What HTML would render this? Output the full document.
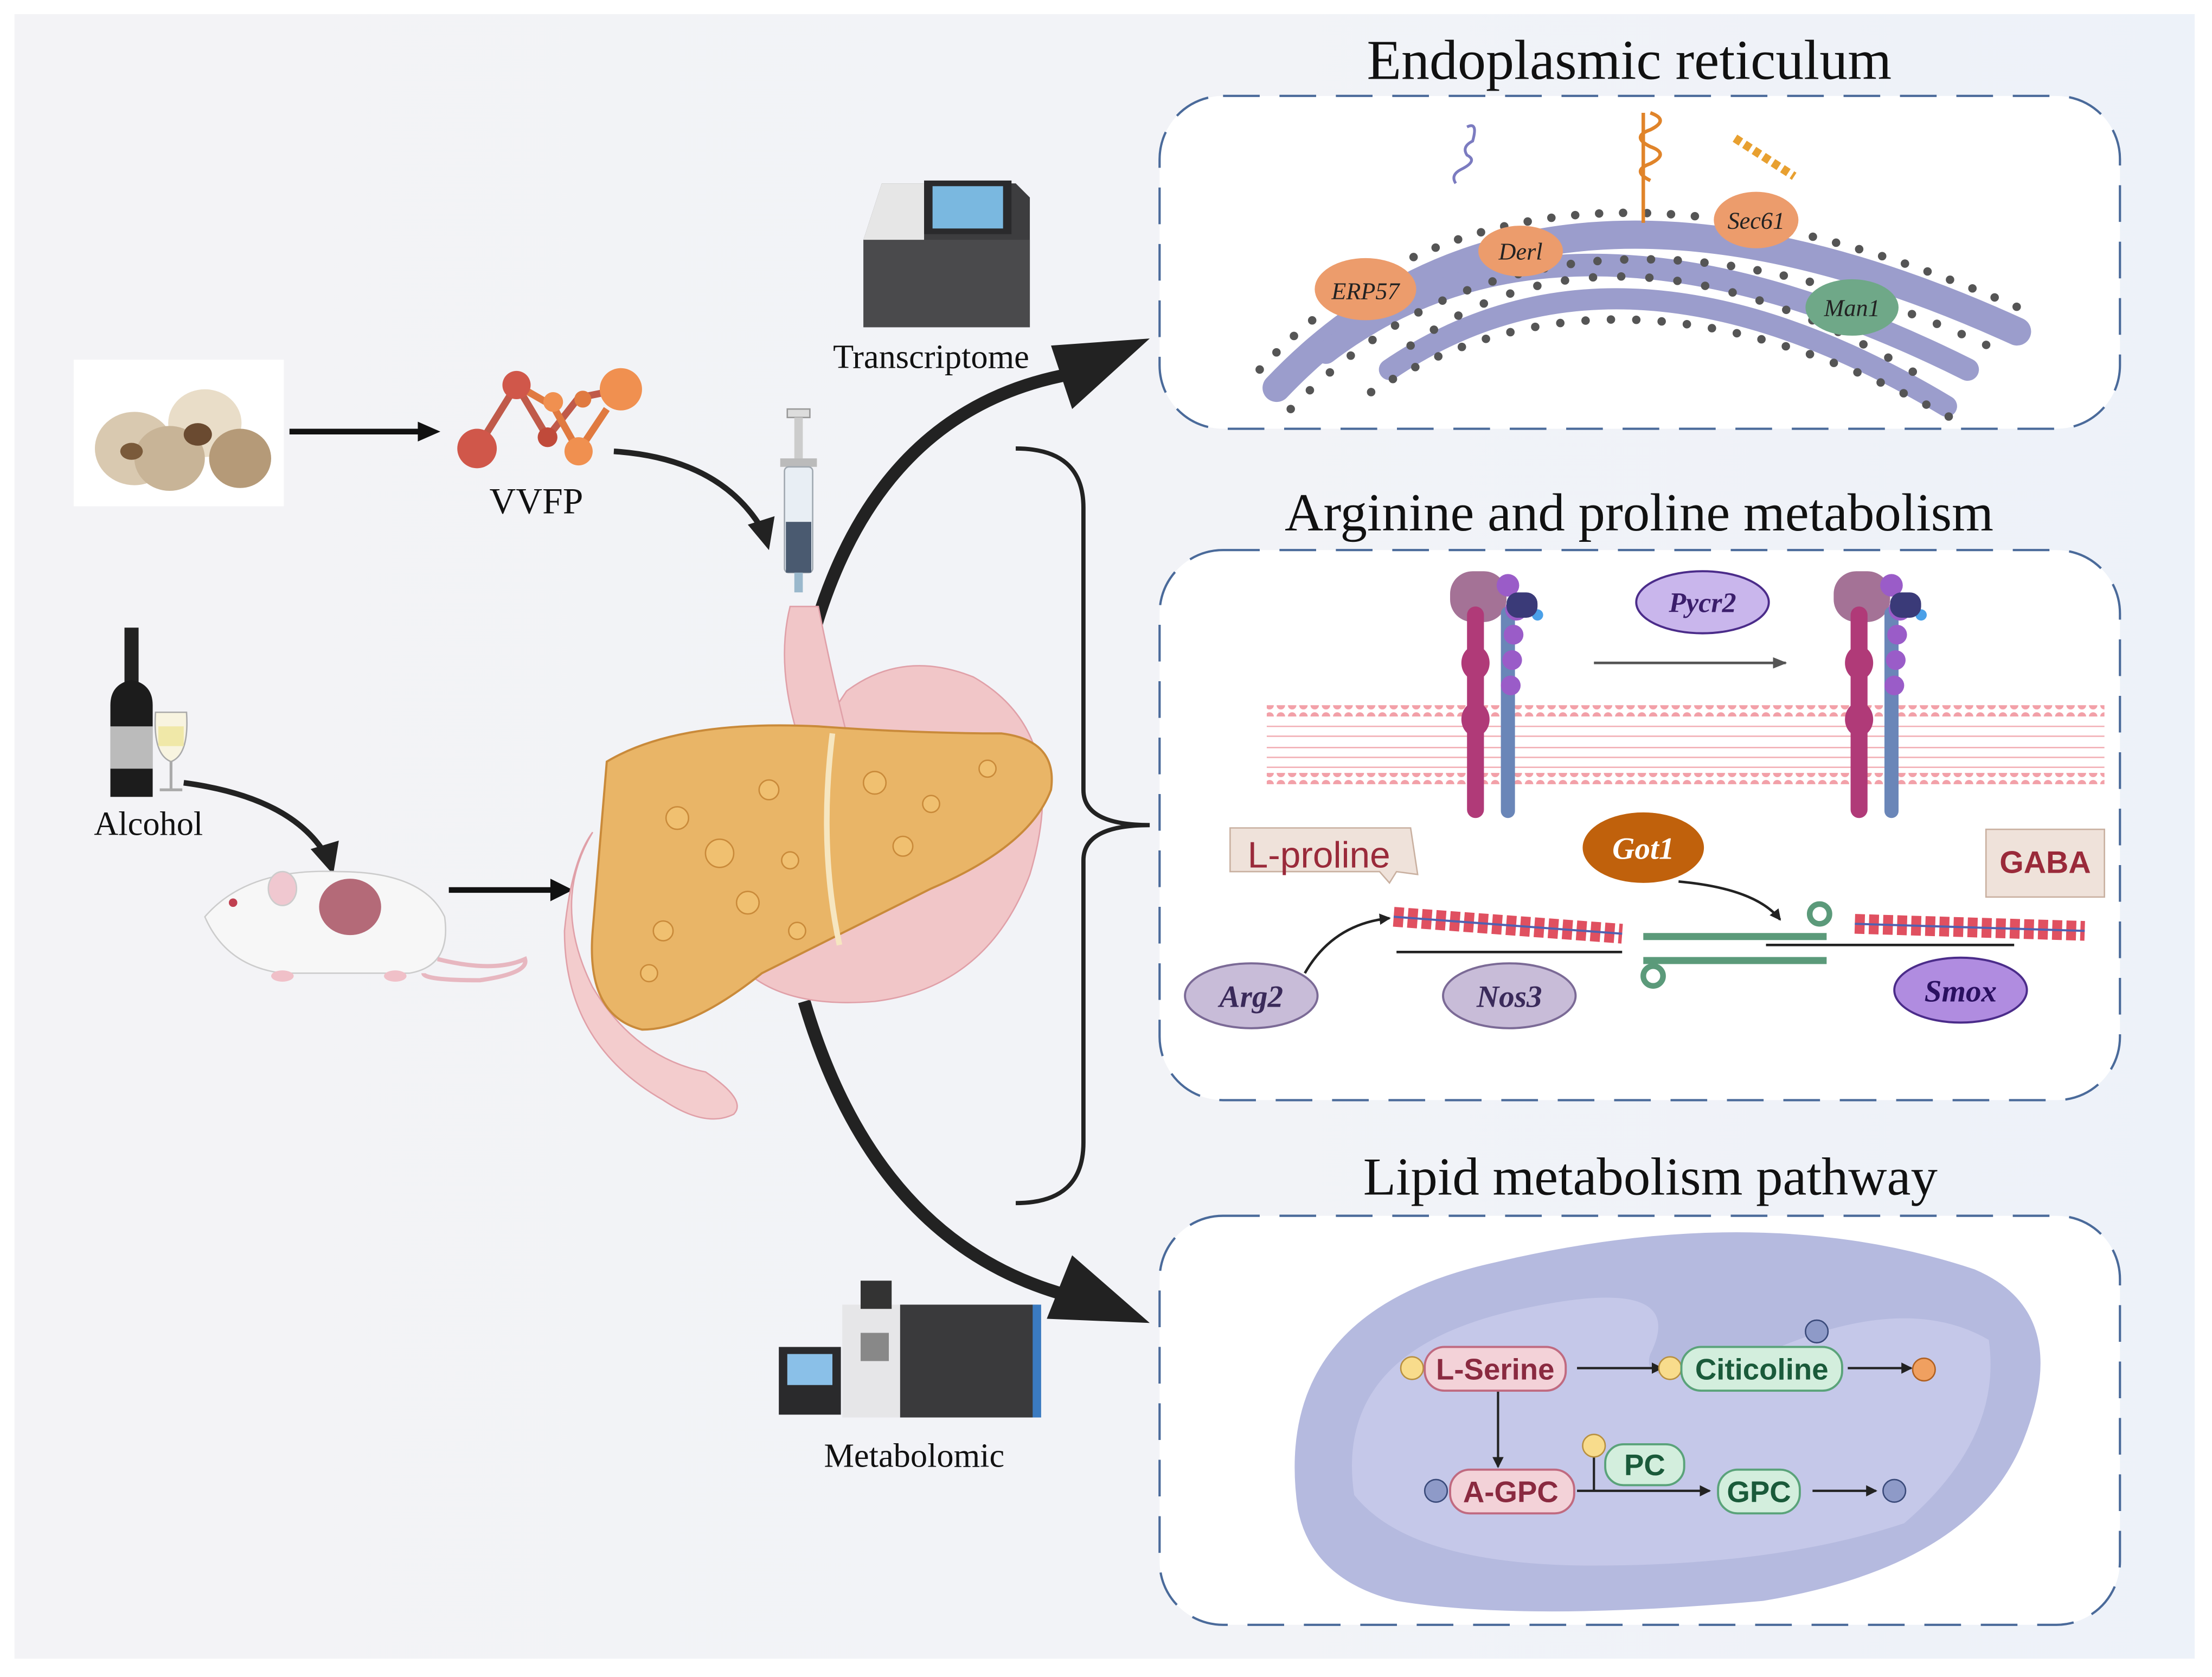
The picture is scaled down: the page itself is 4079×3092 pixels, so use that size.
<!DOCTYPE html>
<html><head><meta charset="utf-8"><style>
html,body{margin:0;padding:0;background:#fff}
svg{display:block}
</style></head><body>
<svg width="4079" height="3092" viewBox="0 0 1568 1189" xmlns="http://www.w3.org/2000/svg" font-family="Liberation Serif, serif">
<defs>
<linearGradient id="bg" x1="0" x2="1" y1="0" y2="0"><stop offset="0" stop-color="#f3f3f6"/><stop offset="0.55" stop-color="#f2f3f7"/><stop offset="1" stop-color="#edf2f9"/></linearGradient>
<marker id="ah" markerWidth="8" markerHeight="8" refX="7" refY="4" orient="auto" markerUnits="userSpaceOnUse"><path d="M0,0 L8,4 L0,8 z" fill="#222"/></marker>
<marker id="ahs" markerWidth="10" markerHeight="8" refX="9" refY="4" orient="auto" markerUnits="userSpaceOnUse"><path d="M0,0 L10,4 L0,8 z" fill="#555"/></marker>
<pattern id="mem" width="8" height="8" patternUnits="userSpaceOnUse"><circle cx="4" cy="4" r="3" fill="#f2a0a8"/></pattern>
</defs>
<rect x="0" y="0" width="1568" height="1189" fill="#fff"/>
<rect x="10" y="10" width="1546" height="1166" fill="url(#bg)"/>

<!-- panels -->
<g fill="#fff" stroke="#4a6a9a" stroke-width="1.6" stroke-dasharray="26,14">
<rect x="822" y="68" width="681" height="236" rx="45"/>
<rect x="822" y="390" width="681" height="390" rx="45"/>
<rect x="822" y="862" width="681" height="290" rx="45"/>
</g>
<g font-size="38" fill="#111" text-anchor="middle">
<text x="1155" y="56" font-size="40">Endoplasmic reticulum</text>
<text x="1162" y="376">Arginine and proline metabolism</text>
<text x="1170" y="847">Lipid metabolism pathway</text>
</g>

<!-- ER -->
<g fill="none" stroke-linecap="round">
<path d="M905,275 Q1090,80 1430,235" stroke="#9b9dcc" stroke-width="20"/>
<path d="M940,250 Q1110,120 1395,262" stroke="#9b9dcc" stroke-width="16"/>
<path d="M985,262 Q1150,150 1380,288" stroke="#9b9dcc" stroke-width="15"/>
<path d="M893,262 Q1080,62 1440,222" stroke="#555" stroke-width="6" stroke-dasharray="0,17"/>
<path d="M915,290 Q1100,100 1420,250" stroke="#555" stroke-width="6" stroke-dasharray="0,19"/>
<path d="M972,278 Q1150,165 1390,300" stroke="#555" stroke-width="6" stroke-dasharray="0,18"/>
<path d="M1000,245 Q1150,135 1370,272" stroke="#555" stroke-width="6" stroke-dasharray="0,20"/>
</g>
<path d="M1040,90 q8,-4 4,10 q-8,4 -4,10 q8,4 -4,10 q-8,4 -4,10" stroke="#7b7bc0" stroke-width="2" fill="none"/>
<path d="M1170,80 q14,5 0,12 q-14,5 0,12 q14,5 0,12 q-14,5 0,12 M1165,80 L1165,158" stroke="#e0842a" stroke-width="2.5" fill="none"/>
<path d="M1230,98 L1272,125" stroke="#e8a030" stroke-width="6" stroke-dasharray="5,3"/>
<g font-style="italic" font-size="17" fill="#222" text-anchor="middle">
<ellipse cx="968" cy="205" rx="36" ry="22" fill="#ec9c6c"/><text x="968" y="212">ERP57</text>
<ellipse cx="1078" cy="178" rx="30" ry="18" fill="#ec9c6c"/><text x="1078" y="184">Derl</text>
<ellipse cx="1245" cy="156" rx="30" ry="20" fill="#ec9c6c"/><text x="1245" y="162">Sec61</text>
<ellipse cx="1313" cy="218" rx="33" ry="20" fill="#6fa888"/><text x="1313" y="224">Man1</text>
</g>

<!-- Arginine panel -->
<rect x="898" y="500" width="594" height="56" fill="#fff"/>
<rect x="898" y="500" width="594" height="8" fill="url(#mem)"/>
<rect x="898" y="548" width="594" height="8" fill="url(#mem)"/>
<g stroke="#f2b0b6" stroke-width="1"><path d="M898,515 H1492 M898,522 H1492 M898,530 H1492 M898,537 H1492 M898,544 H1492"/></g>
<g>
<rect x="1028" y="405" width="40" height="36" rx="16" fill="#a47296"/>
<rect x="1040" y="430" width="12" height="150" rx="6" fill="#b03a78"/>
<ellipse cx="1046" cy="470" rx="10" ry="12" fill="#b03a78"/><ellipse cx="1046" cy="510" rx="10" ry="12" fill="#b03a78"/>
<rect x="1064" y="430" width="10" height="150" rx="5" fill="#6a86b8"/>
<g fill="#9a5cc8"><circle cx="1069" cy="415" r="8"/><circle cx="1075" cy="432" r="8"/><circle cx="1073" cy="450" r="7"/><circle cx="1072" cy="468" r="7"/><circle cx="1071" cy="486" r="7"/></g>
<circle cx="1090" cy="436" r="4" fill="#4aa0e8"/>
<rect x="1068" y="420" width="22" height="18" rx="8" fill="#3a3a78"/>
</g>
<g transform="translate(272,0)">
<rect x="1028" y="405" width="40" height="36" rx="16" fill="#a47296"/>
<rect x="1040" y="430" width="12" height="150" rx="6" fill="#b03a78"/>
<ellipse cx="1046" cy="470" rx="10" ry="12" fill="#b03a78"/><ellipse cx="1046" cy="510" rx="10" ry="12" fill="#b03a78"/>
<rect x="1064" y="430" width="10" height="150" rx="5" fill="#6a86b8"/>
<g fill="#9a5cc8"><circle cx="1069" cy="415" r="8"/><circle cx="1075" cy="432" r="8"/><circle cx="1073" cy="450" r="7"/><circle cx="1072" cy="468" r="7"/><circle cx="1071" cy="486" r="7"/></g>
<circle cx="1090" cy="436" r="4" fill="#4aa0e8"/>
<rect x="1068" y="420" width="22" height="18" rx="8" fill="#3a3a78"/>
</g>
<line x1="1130" y1="470" x2="1266" y2="470" stroke="#555" stroke-width="1.8" marker-end="url(#ahs)"/>
<ellipse cx="1207" cy="427" rx="47" ry="22" fill="#c9b6ec" stroke="#4b2c8a" stroke-width="1.5"/>
<text x="1207" y="434" text-anchor="middle" font-size="20" font-style="italic" font-weight="bold" fill="#3b1e6b">Pycr2</text>

<path d="M872,587 H1000 L1005,620 L990,618 L985,626 L978,618 H872 z" fill="#efe2da" stroke="#c9b0a0"/>
<text x="935" y="615" text-anchor="middle" font-size="26" font-family="Liberation Sans, sans-serif" fill="#9a2a3a">L-proline</text>
<ellipse cx="1165" cy="601" rx="43" ry="25" fill="#c0610c"/>
<text x="1165" y="609" text-anchor="middle" font-size="22" font-style="italic" font-weight="bold" fill="#fff">Got1</text>
<rect x="1408" y="588" width="84" height="48" fill="#efe2da" stroke="#c9b0a0"/>
<text x="1450" y="619" text-anchor="middle" font-size="22" font-family="Liberation Sans, sans-serif" font-weight="bold" fill="#9a2a3a">GABA</text>
<path d="M1190,625 Q1245,630 1262,652" stroke="#222" stroke-width="1.8" fill="none" marker-end="url(#ah)"/>
<path d="M925,690 Q945,655 985,651" stroke="#222" stroke-width="1.8" fill="none" marker-end="url(#ah)"/>
<g>
<path d="M988,650 L1150,662" stroke="#e05060" stroke-width="14" stroke-dasharray="7,3"/>
<path d="M988,650 L1150,662" stroke="#5060b0" stroke-width="1.5"/>
<path d="M1315,655 L1478,660" stroke="#e05060" stroke-width="14" stroke-dasharray="7,3"/>
<path d="M1315,655 L1478,660" stroke="#5060b0" stroke-width="1.5"/>
<path d="M1165,664 H1295 M1165,681 H1295" stroke="#5b9a7a" stroke-width="5"/>
<circle cx="1290" cy="648" r="7" fill="none" stroke="#5b9a7a" stroke-width="4"/>
<circle cx="1172" cy="692" r="7" fill="none" stroke="#5b9a7a" stroke-width="4"/>
<path d="M990,675 H1150 M1252,670 H1428" stroke="#222" stroke-width="1.8"/>
</g>
<ellipse cx="887" cy="706" rx="47" ry="23" fill="#c8bcd8" stroke="#7b6a96" stroke-width="1.5"/>
<text x="887" y="714" text-anchor="middle" font-size="22" font-style="italic" font-weight="bold" fill="#3a2a5a">Arg2</text>
<ellipse cx="1070" cy="706" rx="47" ry="23" fill="#c8bcd8" stroke="#7b6a96" stroke-width="1.5"/>
<text x="1070" y="714" text-anchor="middle" font-size="22" font-style="italic" font-weight="bold" fill="#3a2a5a">Nos3</text>
<ellipse cx="1390" cy="702" rx="47" ry="23" fill="#b08ce0" stroke="#4b2c8a" stroke-width="1.5"/>
<text x="1390" y="710" text-anchor="middle" font-size="22" font-style="italic" font-weight="bold" fill="#2a1060">Smox</text>

<!-- bracket -->
<path d="M720,318 Q768,318 768,360 V560 Q768,585 815,585 Q768,585 768,610 V810 Q768,853 720,853" stroke="#222" stroke-width="3" fill="none"/>

<!-- Lipid panel -->
<path d="M920,1070 Q900,930 1060,895 Q1250,850 1400,900 Q1470,930 1435,1020 Q1400,1110 1250,1135 Q1080,1150 990,1135 Q930,1120 920,1070z" fill="#b5badf"/>
<path d="M960,1060 Q945,960 1070,930 Q1200,900 1170,960 Q1160,990 1250,960 Q1350,915 1410,950 Q1420,1020 1350,1080 Q1260,1110 1130,1110 Q1000,1110 960,1060z" fill="#c9cceb" opacity="0.8"/>
<g font-family="Liberation Sans, sans-serif" font-weight="bold" font-size="21" text-anchor="middle">
<line x1="1118" y1="970" x2="1178" y2="970" stroke="#222" stroke-width="1.6" marker-end="url(#ah)"/>
<line x1="1310" y1="970" x2="1355" y2="970" stroke="#222" stroke-width="1.6" marker-end="url(#ah)"/>
<line x1="1062" y1="985" x2="1062" y2="1040" stroke="#222" stroke-width="1.6" marker-end="url(#ah)"/>
<line x1="1118" y1="1057" x2="1212" y2="1057" stroke="#222" stroke-width="1.6" marker-end="url(#ah)"/>
<line x1="1285" y1="1057" x2="1330" y2="1057" stroke="#222" stroke-width="1.6" marker-end="url(#ah)"/>
<path d="M1130,1027 V1057" stroke="#222" stroke-width="1.6"/>
<circle cx="1001" cy="970" r="8" fill="#f8dc8c" stroke="#b89040"/>
<rect x="1010" y="955" width="100" height="31" rx="14" fill="#f3d2d8" stroke="#c06a80" stroke-width="1.5"/><text x="1060" y="978" fill="#8a2a40">L-Serine</text>
<circle cx="1184" cy="970" r="8" fill="#f8dc8c" stroke="#b89040"/>
<rect x="1192" y="955" width="114" height="31" rx="14" fill="#d3eedd" stroke="#5aa37a" stroke-width="1.5"/><text x="1249" y="978" fill="#1a5a3a">Citicoline</text>
<circle cx="1288" cy="944" r="8" fill="#8e9ac8" stroke="#3a4a7a"/>
<circle cx="1364" cy="971" r="8" fill="#f0a060" stroke="#b06020"/>
<circle cx="1018" cy="1057" r="8" fill="#8e9ac8" stroke="#3a4a7a"/>
<rect x="1028" y="1042" width="88" height="31" rx="14" fill="#f3d2d8" stroke="#c06a80" stroke-width="1.5"/><text x="1071" y="1065" fill="#8a2a40">A-GPC</text>
<circle cx="1130" cy="1025" r="8" fill="#f8dc8c" stroke="#b89040"/>
<rect x="1138" y="1024" width="56" height="29" rx="13" fill="#d3eedd" stroke="#5aa37a" stroke-width="1.5"/><text x="1166" y="1046" fill="#1a5a3a">PC</text>
<rect x="1218" y="1042" width="58" height="31" rx="14" fill="#d3eedd" stroke="#5aa37a" stroke-width="1.5"/><text x="1247" y="1065" fill="#1a5a3a">GPC</text>
<circle cx="1343" cy="1057" r="8" fill="#8e9ac8" stroke="#3a4a7a"/>
</g>

<!-- big arrows -->
<path d="M575,455 Q620,290 760,265" stroke="#222" stroke-width="9" fill="none"/>
<path d="M745,245 L815,240 L760,290 z" fill="#222"/>
<path d="M570,710 Q620,880 755,918" stroke="#222" stroke-width="9" fill="none"/>
<path d="M742,935 L815,938 L760,890 z" fill="#222"/>

<!-- mushroom image -->
<rect x="52" y="255" width="149" height="104" fill="#fff"/>
<g>
<ellipse cx="95" cy="318" rx="28" ry="26" fill="#d9c9b0"/><ellipse cx="145" cy="300" rx="26" ry="24" fill="#e9ddc8"/>
<ellipse cx="120" cy="325" rx="25" ry="23" fill="#c8b497"/><ellipse cx="170" cy="325" rx="22" ry="21" fill="#b59a78"/>
<ellipse cx="140" cy="308" rx="10" ry="8" fill="#6a4a30"/><ellipse cx="93" cy="320" rx="8" ry="6" fill="#7a5a3a"/>
</g>
<line x1="205" y1="306" x2="305" y2="306" stroke="#111" stroke-width="4"/>
<path d="M296,299 L312,306 L296,313z" fill="#111"/>
<g stroke-width="5" fill="none">
<path d="M338,318 L366,273 L388,310 L410,282 L440,276" stroke="#c05a4a"/>
<path d="M366,273 L392,288 L410,320 L430,290" stroke="#e07a40"/>
</g>
<g><circle cx="338" cy="318" r="14" fill="#d0574a"/><circle cx="366" cy="273" r="10" fill="#d0574a"/><circle cx="388" cy="310" r="7" fill="#c04a3a"/><circle cx="392" cy="285" r="7" fill="#f09050"/><circle cx="410" cy="320" r="10" fill="#f09050"/><circle cx="413" cy="283" r="6" fill="#e07a40"/><circle cx="440" cy="276" r="15" fill="#f09050"/></g>
<text x="380" y="364" font-size="26" text-anchor="middle" fill="#111">VVFP</text>
<path d="M435,320 Q510,325 540,375" stroke="#222" stroke-width="4" fill="none"/>
<path d="M530,372 L545,390 L549,366z" fill="#222"/>

<!-- syringe -->
<g>
<rect x="558" y="290" width="16" height="6" fill="#ddd" stroke="#999"/>
<rect x="563" y="296" width="6" height="30" fill="#ccc"/>
<rect x="553" y="325" width="26" height="6" fill="#bbb"/>
<rect x="556" y="331" width="20" height="75" rx="3" fill="#e8eef4" stroke="#a0a8b0"/>
<rect x="557" y="370" width="18" height="36" fill="#4a5a70"/>
<rect x="563" y="406" width="6" height="14" fill="#9ab8cc"/>
</g>

<!-- sequencer -->
<g>
<path d="M612,170 L625,130 H720 L730,140 V232 H612z" fill="#3d3d3f"/>
<rect x="612" y="170" width="118" height="62" fill="#4a4a4c"/>
<path d="M625,130 H655 V170 H612z" fill="#e6e6e6"/>
<rect x="655" y="128" width="62" height="38" fill="#2a2a2c"/>
<rect x="661" y="132" width="50" height="30" fill="#7ab8e0"/>
</g>
<text x="660" y="261" font-size="24" text-anchor="middle" fill="#111">Transcriptome</text>

<!-- alcohol -->
<g>
<rect x="88" y="445" width="10" height="40" fill="#222"/>
<path d="M78,500 Q78,485 93,482 Q108,485 108,500 V565 H78z" fill="#1c1c1c"/>
<rect x="78" y="515" width="30" height="30" fill="#bbb"/>
<path d="M110,505 H132 Q134,535 121,540 Q108,535 110,505z" fill="#f8f4e0" stroke="#aaa"/>
<rect x="112" y="515" width="18" height="14" fill="#f0e8a8"/>
<line x1="121" y1="540" x2="121" y2="560" stroke="#aaa" stroke-width="2"/><line x1="113" y1="560" x2="129" y2="560" stroke="#aaa" stroke-width="2"/>
</g>
<text x="105" y="592" font-size="24" text-anchor="middle" fill="#111">Alcohol</text>
<path d="M130,555 Q205,565 230,605" stroke="#222" stroke-width="4" fill="none"/>
<path d="M220,602 L236,620 L240,596z" fill="#222"/>

<!-- mouse -->
<g>
<path d="M145,650 Q175,615 240,618 Q300,618 315,650 Q320,685 290,690 H200 Q160,685 145,650z" fill="#f7f7f7" stroke="#ccc"/>
<path d="M310,680 Q350,690 372,680 Q375,690 340,695 Q300,695 300,690" stroke="#e7b7c0" stroke-width="3" fill="none"/>
<ellipse cx="248" cy="643" rx="22" ry="20" fill="#b46a78"/>
<ellipse cx="200" cy="630" rx="10" ry="12" fill="#f0c8d0" stroke="#ccc"/>
<circle cx="165" cy="640" r="3" fill="#c04050"/>
<ellipse cx="200" cy="692" rx="8" ry="4" fill="#f0c0c8"/><ellipse cx="280" cy="692" rx="8" ry="4" fill="#f0c0c8"/>
</g>
<line x1="318" y1="631" x2="395" y2="631" stroke="#111" stroke-width="4"/>
<path d="M390,623 L406,631 L390,639z" fill="#111"/>

<!-- stomach & liver -->
<path d="M600,490 Q640,460 690,480 Q760,520 730,620 Q700,700 620,710 Q560,715 530,690 Q500,650 530,600 Q560,550 600,490z" fill="#f1c6c8" stroke="#e0a0a8"/>
<path d="M560,430 Q550,470 565,520 Q580,560 600,520 Q590,480 580,430z" fill="#f1c6c8" stroke="#e0a0a8"/>
<path d="M420,590 Q390,640 420,700 Q450,750 500,760 Q530,780 520,790 Q500,800 470,780 Q400,740 400,660 Q405,610 420,590z" fill="#f3cccd" stroke="#e0a0a8"/>
<path d="M430,540 Q480,510 580,515 Q650,520 710,520 Q750,525 745,560 Q730,600 660,630 Q600,660 540,690 Q490,730 455,730 Q415,720 420,660 Q425,600 430,540z" fill="#e9b567" stroke="#c98a3a" stroke-width="1.5"/>
<path d="M590,520 Q580,600 595,670" stroke="#f6e6c0" stroke-width="4" fill="none"/>
<g fill="#f0c070" stroke="#c98a3a" stroke-width="1">
<circle cx="480" cy="580" r="8"/><circle cx="510" cy="605" r="10"/><circle cx="545" cy="560" r="7"/><circle cx="620" cy="555" r="8"/><circle cx="660" cy="570" r="6"/><circle cx="470" cy="660" r="7"/><circle cx="530" cy="640" r="8"/><circle cx="560" cy="610" r="6"/><circle cx="700" cy="545" r="6"/><circle cx="640" cy="600" r="7"/><circle cx="460" cy="690" r="6"/><circle cx="565" cy="660" r="6"/>
</g>

<!-- metabolomic instrument -->
<g>
<rect x="552" y="955" width="44" height="48" fill="#2a2a2c"/>
<rect x="558" y="960" width="32" height="22" fill="#8ac0e8"/>
<rect x="597" y="925" width="42" height="80" fill="#e6e6e8"/>
<rect x="610" y="908" width="22" height="20" fill="#333"/>
<rect x="610" y="945" width="20" height="20" fill="#888"/>
<rect x="638" y="925" width="98" height="80" fill="#3a3a3c"/>
<rect x="732" y="925" width="6" height="80" fill="#3a7ac0"/>
</g>
<text x="648" y="1040" font-size="24" text-anchor="middle" fill="#111">Metabolomic</text>
</svg>
</body></html>
